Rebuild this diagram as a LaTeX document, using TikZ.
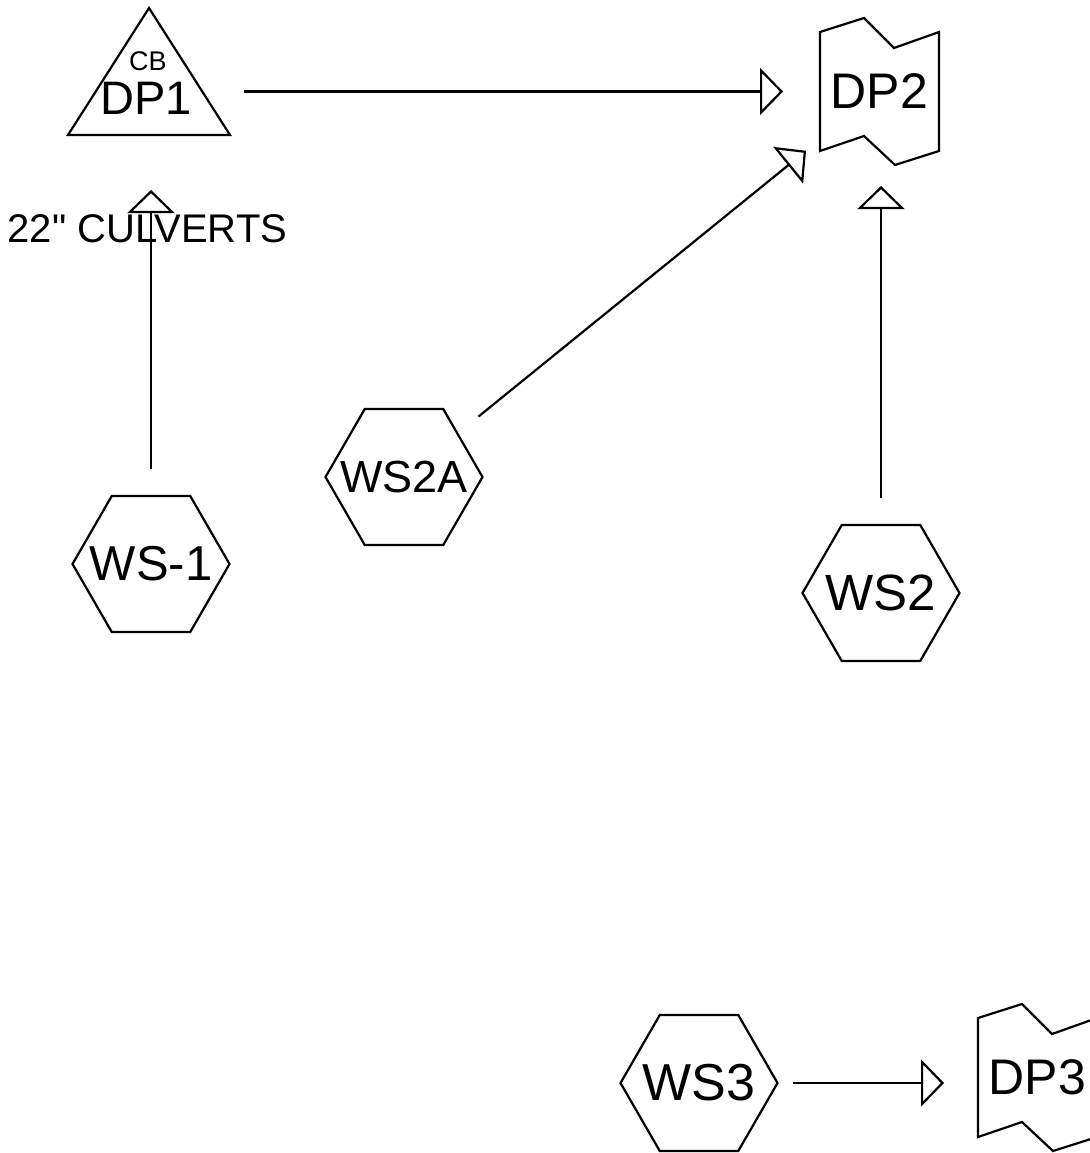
\documentclass[tikz,border=0pt]{standalone}
\usepackage{fontspec}
\setmainfont{Liberation Sans}
\newfontfamily\plainsans{Liberation Sans}
\usetikzlibrary{shapes.geometric, arrows.meta, positioning, calc}

\begin{document}
\begin{tikzpicture}[x=1pt, y=-1pt, line width=2.2pt,
            basin/.style 2 args={regular polygon, regular polygon sides=6, draw=black, minimum size=157pt, inner sep=0pt, outer sep=0pt, label={[font=\fontsize{#2}{#2}\selectfont]center:#1}},
            outfall/.style={rectangle, minimum width=119pt, minimum height=119pt, inner sep=0pt, outer sep=0pt, font=\fontsize{50}{60}\selectfont},
            inlet/.style={rectangle, minimum width=162pt, minimum height=127pt, inner sep=0pt, outer sep=0pt},
            flow/.style={-{Triangle[open, length=23pt, width=47pt]}}
        ]
            \useasboundingbox (0,0) rectangle (1089,1153);

% Design points
            \node[inlet] (dp1) at (149,71.5) {};
            \draw (dp1.north) -- (dp1.south east) -- (dp1.south west) -- cycle;
            \node[font=\fontsize{27}{30}\selectfont] (dp1_cb) at (148,61) {CB};
            \node[font=\fontsize{47}{56}\selectfont] (dp1_txt) at (146,98) {DP1};

            \node[outfall] (dp2) at (879.5,91.5) {DP2};
            \node[outfall] (dp3) at (1037.5,1077.5) {DP3};
            \foreach \p in {dp2,dp3}
              \draw[line join=miter] (\p.north west) -- ++(44,-14) -- ++(30,30) -- (\p.north east)
                -- (\p.south east) -- ++(-44,14) -- ++(-31,-29) -- (\p.south west) -- cycle;

% Watersheds
            \node[basin={WS-1}{49}] (ws1) at (151,564) {};
            \node[basin={WS2A}{45}] (ws2a) at (404,477) {};
            \node[basin={WS2}{51}] (ws2) at (881,593) {};
            \node[basin={WS3}{52}] (ws3) at (699,1083) {};

% Flow paths
            \draw[flow, shorten <=14pt, shorten >=37pt] (dp1.east |- dp2.west) -- (dp2.west);
            \draw[flow, shorten <=27pt, shorten >=55pt] (ws1.north) -- (ws1.north |- dp1.south);
            \draw[flow, shorten <=27pt, shorten >=18pt] (ws2a) -- (dp2);
            \draw[flow, shorten <=27pt, shorten >=35pt] (ws2.north) -- (ws2.north |- dp2.south);
            \draw[flow, shorten <=15pt, shorten >=34pt] (ws3.east) -- (ws3.east -| dp3.west);

            \node[anchor=base, font=\plainsans\fontsize{40}{48}\selectfont] (culverts) at (147.5,242) {22" CULVERTS};

        \end{tikzpicture}
\end{document}
